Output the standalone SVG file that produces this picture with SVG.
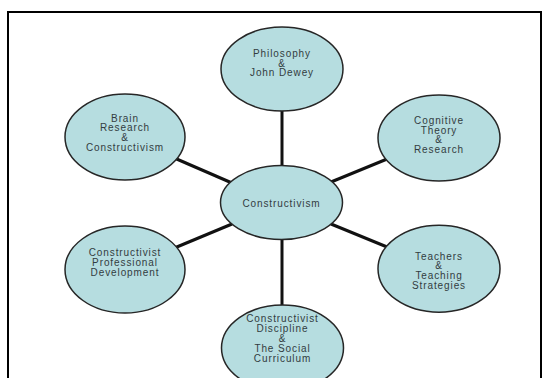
<svg xmlns="http://www.w3.org/2000/svg" width="542" height="378" viewBox="0 0 542 378">
<style>
.n{fill:#b6dde0;stroke:#262626;stroke-width:1.5}
.t{font-family:"Liberation Sans",Arial,sans-serif;font-size:10px;letter-spacing:0.9px;fill:#323c40;text-anchor:middle}
.c{stroke:#111;stroke-width:3;fill:none}
.f{stroke:#000;stroke-width:2;fill:none}
</style>
<rect width="542" height="378" fill="#fff"/>
<path class="f" d="M8,390 V12 H541 V390"/>
<g id="connectors">
<line class="c" x1="282" y1="108" x2="282" y2="170"/>
<line class="c" x1="282" y1="235" x2="282" y2="308"/>
<line class="c" x1="172" y1="157" x2="232" y2="183"/>
<line class="c" x1="392" y1="157" x2="331" y2="182"/>
<line class="c" x1="172" y1="249" x2="232" y2="224"/>
<line class="c" x1="331" y1="224" x2="392" y2="249"/>
</g>
<g id="philosophy">
<ellipse class="n" cx="282" cy="69" rx="61" ry="42"/>
<text class="t" x="282" y="57">Philosophy</text>
<text class="t" x="282" y="66.7">&amp;</text>
<text class="t" x="282" y="76.4">John Dewey</text>
</g>
<g id="brain">
<ellipse class="n" cx="125" cy="137" rx="60" ry="43"/>
<text class="t" x="125" y="121.5">Brain</text>
<text class="t" x="125" y="131.3">Research</text>
<text class="t" x="125" y="141">&amp;</text>
<text class="t" x="125" y="150.8">Constructivism</text>
</g>
<g id="cognitive">
<ellipse class="n" cx="439" cy="138" rx="61" ry="43"/>
<text class="t" x="439" y="123.7">Cognitive</text>
<text class="t" x="439" y="133.5">Theory</text>
<text class="t" x="439" y="143.3">&amp;</text>
<text class="t" x="439" y="153">Research</text>
</g>
<g id="constructivism">
<ellipse class="n" cx="281.5" cy="202.5" rx="61" ry="37"/>
<text class="t" x="281.5" y="206.5">Constructivism</text>
</g>
<g id="professional">
<ellipse class="n" cx="125" cy="269.5" rx="60" ry="43.5"/>
<text class="t" x="125" y="256">Constructivist</text>
<text class="t" x="125" y="266">Professional</text>
<text class="t" x="125" y="276">Development</text>
</g>
<g id="teachers">
<ellipse class="n" cx="439" cy="268.7" rx="61" ry="43.5"/>
<text class="t" x="439" y="259.5">Teachers</text>
<text class="t" x="439" y="269.3">&amp;</text>
<text class="t" x="439" y="279">Teaching</text>
<text class="t" x="439" y="289">Strategies</text>
</g>
<g id="discipline">
<ellipse class="n" cx="282.5" cy="348" rx="61" ry="43"/>
<text class="t" x="282.5" y="322">Constructivist</text>
<text class="t" x="282.5" y="332">Discipline</text>
<text class="t" x="282.5" y="342">&amp;</text>
<text class="t" x="282.5" y="352">The Social</text>
<text class="t" x="282.5" y="362">Curriculum</text>
</g>
</svg>
